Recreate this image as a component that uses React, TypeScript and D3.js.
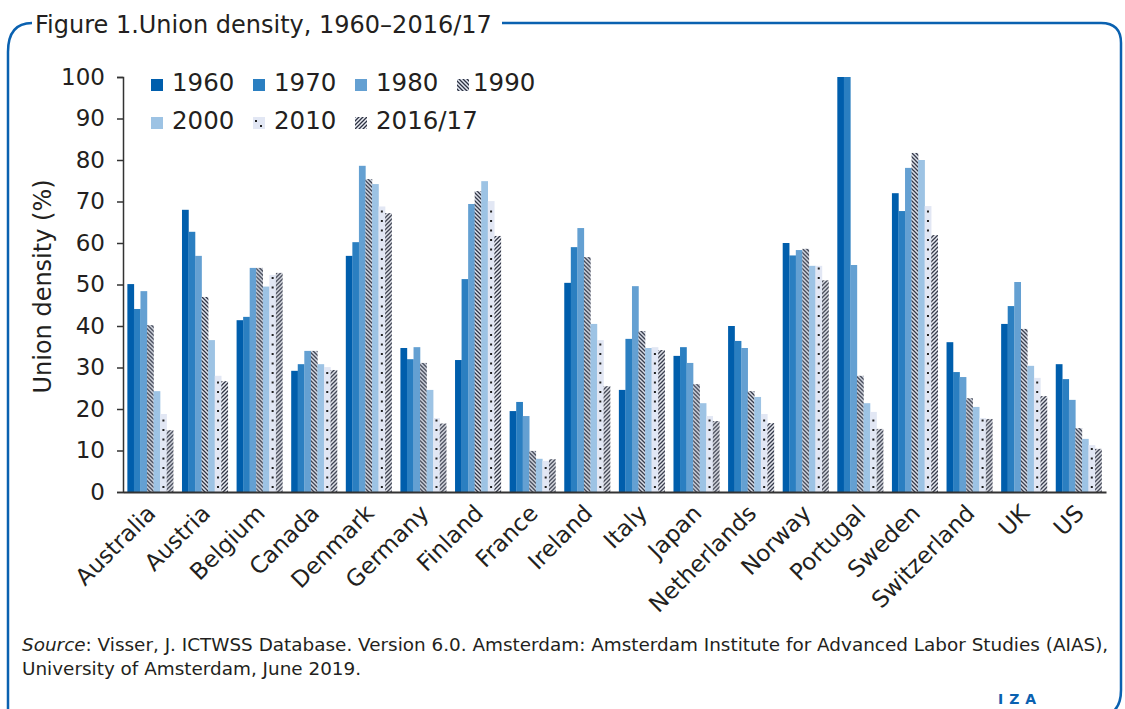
import { FC, useRef, useEffect } from 'react'
import * as d3 from 'd3'

const countries = ['Australia', 'Austria', 'Belgium', 'Canada', 'Denmark', 'Germany', 'Finland', 'France', 'Ireland', 'Italy', 'Japan', 'Netherlands', 'Norway', 'Portugal', 'Sweden', 'Switzerland', 'UK', 'US']
const years = ['1960', '1970', '1980', '1990', '2000', '2010', '2016/17']

const v1960 = [50.1, 68, 41.4, 29.2, 56.9, 34.7, 31.8, 19.5, 50.4, 24.6, 32.8, 40, 60, 100, 72, 36.1, 40.5, 30.8]
const v1970 = [44.1, 62.7, 42.2, 30.8, 60.2, 32, 51.3, 21.7, 59, 36.9, 34.9, 36.4, 57, 100, 67.7, 28.9, 44.8, 27.2]
const v1980 = [48.4, 56.9, 54, 34, 78.6, 34.9, 69.4, 18.3, 63.6, 49.6, 31.1, 34.7, 58.3, 54.7, 78.1, 27.7, 50.6, 22.2]
const v1990 = [40.2, 47, 54, 34, 75.4, 31.1, 72.5, 9.9, 56.6, 38.8, 26, 24.3, 58.6, 28, 81.7, 22.6, 39.3, 15.4]
const v2000 = [24.3, 36.6, 49.5, 30.8, 74.2, 24.6, 74.9, 8, 40.5, 34.7, 21.4, 22.9, 54.5, 21.4, 80, 20.5, 30.4, 12.8]
const v2010 = [18.8, 28, 52.3, 30.1, 68.8, 17.8, 70.1, 7.5, 36.6, 34.9, 18.3, 18.8, 54.5, 19.3, 68.9, 17.8, 27.5, 11.3]
const v2016 = [14.9, 26.7, 52.8, 29.4, 67.2, 16.5, 61.7, 7.9, 25.5, 34.2, 17.1, 16.6, 51, 15.2, 61.9, 17.6, 23.1, 10.4]
const seriesValues = [v1960, v1970, v1980, v1990, v2000, v2010, v2016]

const yTicks = [0, 10, 20, 30, 40, 50, 60, 70, 80, 90, 100]

const FONT = 'DejaVu Sans, sans-serif'
const TEXT = '#231f20'
const FRAME = '#0a61b0'

// fills: plain colours or pattern refs
const fills = ['#005eac', '#2b7fc1', '#64a0d2', 'url(#p1990)', '#9dc3e4', '#e2e7f4', 'url(#p2016)']

const App: FC = () => {
  const svgRef = useRef<SVGSVGElement>(null)

  useEffect(() => {
    if (!svgRef.current) return
    const width = 1125
    const height = 709
    const svg = d3.select(svgRef.current)
    svg.selectAll('*').remove()
    svg.attr('width', width).attr('height', height)

    const defs = svg.append('defs')
    const p90 = defs.append('pattern').attr('id', 'p1990')
      .attr('patternUnits', 'userSpaceOnUse').attr('width', 4).attr('height', 4)
    p90.append('rect').attr('width', 4).attr('height', 4).attr('fill', '#e4e8f2')
    p90.append('path').attr('d', 'M-1,-1 L5,5 M-1,3 L1,5 M3,-1 L5,1')
      .attr('stroke', '#2d3242').attr('stroke-width', 1.3)
    const p16 = defs.append('pattern').attr('id', 'p2016')
      .attr('patternUnits', 'userSpaceOnUse').attr('width', 4).attr('height', 4)
    p16.append('rect').attr('width', 4).attr('height', 4).attr('fill', '#eef0f6')
    p16.append('path').attr('d', 'M-1,5 L5,-1 M-1,1 L1,-1 M3,5 L5,3')
      .attr('stroke', '#2d3242').attr('stroke-width', 1.3)

    const margin = { top: 77, left: 123, right: 19, bottom: 217 }
    const innerW = width - margin.left - margin.right
    const innerH = height - margin.top - margin.bottom

    const x0 = d3.scaleBand().domain(countries).range([0, innerW]).paddingInner(0.16).paddingOuter(0.08)
    const x1 = d3.scaleBand().domain(years).range([0, x0.bandwidth()])
    const y = d3.scaleLinear().domain([0, 100]).range([innerH, 0])

    const g = svg.append('g').attr('transform', `translate(${margin.left},${margin.top})`)

    // bars
    countries.forEach((c, ci) => {
      const gg = g.append('g').attr('transform', `translate(${x0(c)},0)`)
      years.forEach((yr, si) => {
        const v = seriesValues[si][ci]
        gg.append('rect')
          .attr('x', x1(yr)!)
          .attr('y', y(v))
          .attr('width', x1.bandwidth() + 0.2)
          .attr('height', innerH - y(v))
          .attr('fill', fills[si])
        if (yr === '2010') {
          const cx = x1(yr)! + x1.bandwidth() / 2
          for (let py = innerH - 5; py > y(v) + 2; py -= 9.5) {
            gg.append('rect').attr('x', cx - 1).attr('y', py - 1).attr('width', 2).attr('height', 2).attr('fill', '#222')
          }
        }
      })
    })

    // y axis
    const yAxis = g.append('g')
      .call(d3.axisLeft(y).tickValues(yTicks).tickSize(6).tickPadding(12))
    yAxis.select('.domain').attr('stroke', '#333').attr('stroke-width', 1.5)
    yAxis.selectAll('.tick line').attr('stroke', '#333').attr('stroke-width', 1.5)
    yAxis.selectAll('.tick text').attr('font-family', FONT).attr('font-size', 23).attr('fill', TEXT)

    // x axis
    const xAxis = g.append('g').attr('transform', `translate(0,${innerH})`)
      .call(d3.axisBottom(x0).tickSize(0).tickPadding(0))
    xAxis.select('.domain').attr('stroke', '#333').attr('stroke-width', 2)
    xAxis.selectAll('.tick text')
      .attr('font-family', FONT).attr('font-size', 23).attr('fill', TEXT)
      .attr('text-anchor', 'end')
      .attr('transform', 'translate(1,17) rotate(-45)')
      .attr('dy', '0.35em')

    // y title
    svg.append('text')
      .attr('transform', `translate(51,${margin.top + innerH / 2 + 2}) rotate(-90)`)
      .attr('text-anchor', 'middle')
      .attr('font-family', FONT).attr('font-size', 24).attr('fill', TEXT)
      .text('Union density (%)')

    // legend
    const legend = svg.append('g')
    years.forEach((yr, i) => {
      const col = i < 4 ? i : i - 4
      const row = i < 4 ? 0 : 1
      const lx = 151 + col * 102
      const ly = 79 + row * 38
      legend.append('rect').attr('x', lx).attr('y', ly).attr('width', 12).attr('height', 12).attr('fill', fills[i])
      if (yr === '2010') {
        legend.append('rect').attr('x', lx + 2).attr('y', ly + 3).attr('width', 2).attr('height', 2).attr('fill', '#222')
        legend.append('rect').attr('x', lx + 7).attr('y', ly + 8).attr('width', 2).attr('height', 2).attr('fill', '#222')
      }
      legend.append('text')
        .attr('x', lx + (yr === '1990' ? 16 : 21)).attr('y', ly + 12)
        .attr('font-family', FONT).attr('font-size', 24.5).attr('fill', TEXT)
        .text(yr)
    })

    // frame
    svg.append('path')
      .attr('d', 'M8,709 V52 Q8,23 32,23')
      .attr('fill', 'none').attr('stroke', FRAME).attr('stroke-width', 2.5)
    svg.append('path')
      .attr('d', 'M502,23 H1101 Q1121,23 1121,43 V690 Q1121,712 1104,716')
      .attr('fill', 'none').attr('stroke', FRAME).attr('stroke-width', 2.5)

    svg.append('text')
      .attr('x', 35).attr('y', 33)
      .attr('font-family', FONT).attr('font-size', 24).attr('fill', TEXT)
      .text('Figure 1.Union density, 1960–2016/17')

    // source
    const src = svg.append('text')
      .attr('x', 22).attr('y', 651)
      .attr('font-family', FONT).attr('font-size', 18.4).attr('fill', TEXT)
    src.append('tspan').attr('font-style', 'italic').text('Source')
    src.append('tspan').text(': Visser, J. ICTWSS Database. Version 6.0. Amsterdam: Amsterdam Institute for Advanced Labor Studies (AIAS),')
    svg.append('text')
      .attr('x', 22).attr('y', 675)
      .attr('font-family', FONT).attr('font-size', 18.4).attr('fill', TEXT)
      .text('University of Amsterdam, June 2019.')

    svg.append('text')
      .attr('x', 998).attr('y', 704)
      .attr('font-family', FONT).attr('font-size', 14).attr('font-weight', 'bold')
      .attr('letter-spacing', 6).attr('fill', FRAME)
      .text('IZA')
  }, [])

  return (
    <svg ref={svgRef} style={{ position: 'absolute', left: 0, top: 0, background: '#fff' }} />
  )
}

export default App
